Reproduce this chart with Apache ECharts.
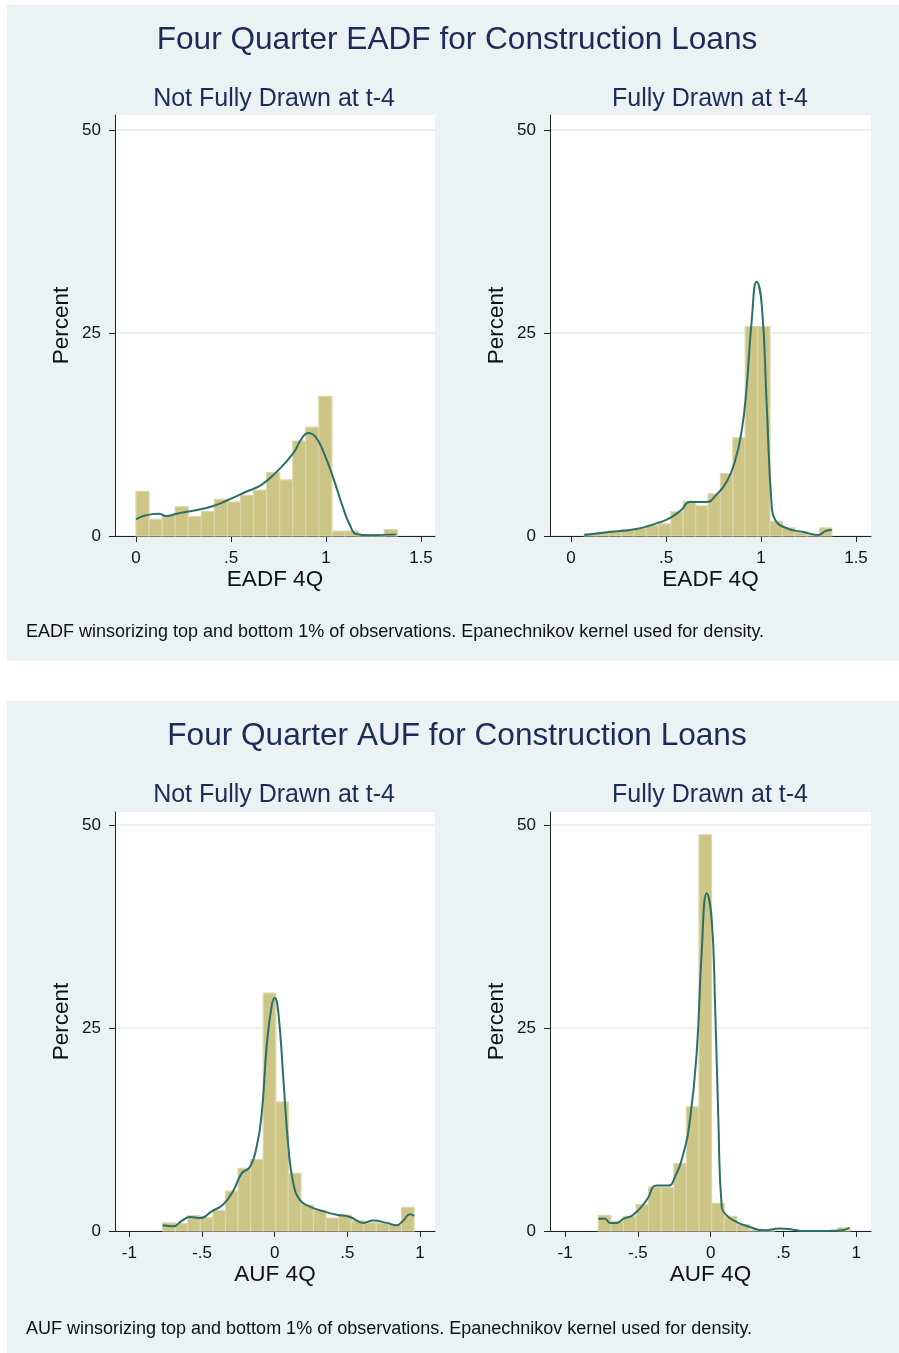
<!DOCTYPE html>
<html>
<head>
<meta charset="utf-8">
<title>Four Quarter EADF and AUF for Construction Loans</title>
<script src="https://cdn.jsdelivr.net/npm/echarts@6/dist/echarts.min.js"></script>
<style>
  html, body { margin: 0; padding: 0; background: #ffffff; }
  #chart { width: 899px; height: 1353px; }
</style>
</head>
<body>
<div id="chart"></div>
<script>
// ---- Histogram bins (percent of loans per bin) ----
// EADF, not fully drawn at t-4
const eadfNotStart = 0.0;
const eadfNotWidth = 0.06875;
const eadfNotPct = [5.5, 2.05, 2.5, 3.6, 2.4, 3.0, 4.5, 4.2, 5.0, 5.65,
                    7.8, 6.9, 11.7, 13.4, 17.2, 0.6, 0.6, 0.1, 0.1, 0.8];
// EADF, fully drawn at t-4
const eadfFullStart = 0.07;
const eadfFullWidth = 0.06515;
const eadfFullPct = [0.3, 0.4, 0.6, 0.8, 0.95, 1.3, 1.5, 3.0, 4.3, 3.7,
                     5.2, 7.7, 12.1, 25.8, 25.8, 1.8, 1.0, 0.5, 0.2, 1.0];
// AUF, not fully drawn at t-4
const aufNotStart = -0.771;
const aufNotWidth = 0.0865;
const aufNotPct = [1.0, 0.9, 1.9, 1.65, 2.55, 4.9, 7.7, 8.8, 29.3, 15.9,
                   7.1, 3.2, 2.55, 1.6, 1.95, 1.25, 1.0, 1.0, 0.7, 2.9];
// AUF, fully drawn at t-4
const aufFullStart = -0.772;
const aufFullWidth = 0.0865;
const aufFullPct = [1.93, 1.2, 1.8, 3.25, 5.4, 5.4, 8.3, 15.3, 48.8, 3.4,
                    1.8, 0.8, 0.2, 0.1, 0, 0, 0, 0, 0, 0.4];

// ---- Epanechnikov kernel density, scaled to percent ----
const eadfNotDensX = [0.0, 0.039, 0.118, 0.161, 0.214, 0.30, 0.407, 0.49, 0.58, 0.66,
                      0.74, 0.828, 0.872, 0.907, 0.942, 0.986, 1.039, 1.091, 1.126, 1.16, 1.23, 1.37];
const eadfNotDensY = [2.05, 2.46, 2.75, 2.46, 2.75, 3.1, 3.7, 4.5, 5.45, 6.3,
                      7.9, 10.2, 12.0, 12.7, 12.3, 10.4, 7.1, 3.4, 1.35, 0.25, 0.1, 0.2];

const eadfFullDensX = [0.07, 0.2, 0.343, 0.45, 0.52, 0.58, 0.625, 0.713, 0.766, 0.82,
                       0.863, 0.898, 0.924, 0.951, 0.977, 1.004, 1.03, 1.056, 1.074, 1.136,
                       1.224, 1.303, 1.338, 1.373];
const eadfFullDensY = [0.12, 0.5, 0.85, 1.55, 2.2, 3.2, 4.2, 4.2, 5.1, 6.7,
                       9.2, 12.9, 18.2, 26.5, 31.3, 28.5, 16.2, 3.8, 2.0, 0.95,
                       0.5, 0.12, 0.6, 0.75];

const aufNotDensX = [-0.771, -0.697, -0.64, -0.583, -0.514, -0.433, -0.353, -0.284, -0.227, -0.17,
                     -0.124, -0.089, -0.055, -0.021, 0.0, 0.025, 0.06, 0.094, 0.128, 0.174,
                     0.243, 0.335, 0.427, 0.518, 0.61, 0.679, 0.771, 0.839, 0.885, 0.931, 0.959];
const aufNotDensY = [0.7, 0.58, 1.24, 1.73, 1.6, 2.43, 3.3, 5.0, 7.1, 7.9,
                     10.4, 14.5, 22.8, 27.7, 28.7, 26.9, 18.6, 10.4, 5.9, 3.8,
                     3.0, 2.43, 2.0, 1.73, 1.0, 1.3, 1.0, 0.7, 1.3, 2.06, 1.86];

const aufFullDensX = [-0.772, -0.726, -0.692, -0.646, -0.6, -0.531, -0.44, -0.371, -0.291, -0.245,
                      -0.188, -0.142, -0.096, -0.062, -0.027, 0.007, 0.03, 0.053, 0.076, 0.11,
                      0.179, 0.27, 0.362, 0.477, 0.568, 0.637, 0.8, 0.889, 0.953];
const aufFullDensY = [1.5, 1.5, 1.0, 1.0, 1.5, 2.0, 3.8, 5.6, 5.6, 6.7,
                      9.5, 13.7, 21.9, 34.2, 41.6, 38.4, 28.1, 13.7, 3.0, 1.93,
                      1.1, 0.5, 0.08, 0.3, 0.16, 0.0, 0.0, 0.05, 0.4];

// ---- Axis ticks and text ----
const yTicks = [0, 25, 50];
const eadfTicks = [0, 0.5, 1, 1.5];
const eadfTickLabels = ['0', '.5', '1', '1.5'];
const aufTicks = [-1, -0.5, 0, 0.5, 1];
const aufTickLabels = ['-1', '-.5', '0', '.5', '1'];

const titleEadf = 'Four Quarter EADF for Construction Loans';
const titleAuf = 'Four Quarter AUF for Construction Loans';
const subNot = 'Not Fully Drawn at t-4';
const subFull = 'Fully Drawn at t-4';
const noteEadf = 'EADF winsorizing top and bottom 1% of observations. Epanechnikov kernel used for density.';
const noteAuf = 'AUF winsorizing top and bottom 1% of observations. Epanechnikov kernel used for density.';

// ---- Styling ----
const FONT = '"Liberation Sans", Arial, sans-serif';
const PANEL_BG = '#EAF2F3';
const TITLE_COLOR = '#1C2B58';
const BAR_FILL = '#CCC585';
const BAR_EDGE = '#DBD7AA';
const CURVE = '#2B6F6B';
const GRID_LINE = '#E3ECF1';

function binRows(start, width, pct) {
  return pct.map((v, i) => [start + i * width, start + (i + 1) * width, v]);
}
function pairs(xs, ys) {
  return xs.map((x, i) => [x, ys[i]]);
}

function renderBin(params, api) {
  const v = api.value(2);
  if (!(v > 0)) return null;
  const tl = api.coord([api.value(0), v]);
  const br = api.coord([api.value(1), 0]);
  return {
    type: 'rect',
    shape: { x: tl[0], y: tl[1], width: br[0] - tl[0], height: br[1] - tl[1] },
    style: { fill: BAR_FILL, stroke: BAR_EDGE, lineWidth: 1.2 }
  };
}

const grids = [
  { left: 115, top: 115, width: 320, height: 421 },
  { left: 550, top: 115, width: 321, height: 421 },
  { left: 115, top: 812, width: 320, height: 419 },
  { left: 550, top: 812, width: 321, height: 419 }
].map(g => Object.assign({ show: true, backgroundColor: '#ffffff', borderWidth: 0 }, g));

function xAxisFor(idx, min, max, ticks, labels, name) {
  return {
    type: 'value', gridIndex: idx, min: min, max: max,
    name: name, nameLocation: 'middle', nameGap: 31,
    nameTextStyle: { fontFamily: FONT, fontSize: 22.5, color: '#111111' },
    axisLine: { show: true, onZero: false, lineStyle: { color: '#222222', width: 1 } },
    axisTick: { show: true, length: 6, customValues: ticks, lineStyle: { color: '#222222' } },
    axisLabel: {
      customValues: ticks, margin: 14,
      fontFamily: FONT, fontSize: 17, color: '#111111',
      formatter: v => { const k = ticks.findIndex(t => Math.abs(t - v) < 1e-9); return k >= 0 ? labels[k] : ''; }
    },
    splitLine: { show: false }
  };
}
function yAxisFor(idx, max) {
  return {
    type: 'value', gridIndex: idx, min: 0, max: max,
    name: 'Percent', nameLocation: 'middle', nameGap: 42, nameRotate: 90,
    nameTextStyle: { fontFamily: FONT, fontSize: 22.5, color: '#111111' },
    axisLine: { show: true, onZero: false, lineStyle: { color: '#222222', width: 1 } },
    axisTick: { show: true, length: 6, customValues: yTicks, lineStyle: { color: '#222222' } },
    axisLabel: { customValues: yTicks, margin: 14, fontFamily: FONT, fontSize: 17, color: '#111111' },
    splitLine: { show: true, lineStyle: { color: GRID_LINE, width: 1.5 } }
  };
}

const xAxes = [
  xAxisFor(0, -0.1105, 1.5737, eadfTicks, eadfTickLabels, 'EADF 4Q'),
  xAxisFor(1, -0.1105, 1.579, eadfTicks, eadfTickLabels, 'EADF 4Q'),
  xAxisFor(2, -1.099, 1.103, aufTicks, aufTickLabels, 'AUF 4Q'),
  xAxisFor(3, -1.104, 1.102, aufTicks, aufTickLabels, 'AUF 4Q')
];
const yAxes = [yAxisFor(0, 51.85), yAxisFor(1, 51.85), yAxisFor(2, 51.6), yAxisFor(3, 51.6)];

const panels = [
  [eadfNotStart, eadfNotWidth, eadfNotPct, eadfNotDensX, eadfNotDensY],
  [eadfFullStart, eadfFullWidth, eadfFullPct, eadfFullDensX, eadfFullDensY],
  [aufNotStart, aufNotWidth, aufNotPct, aufNotDensX, aufNotDensY],
  [aufFullStart, aufFullWidth, aufFullPct, aufFullDensX, aufFullDensY]
];

const series = [];
panels.forEach((p, i) => {
  series.push({
    type: 'custom', xAxisIndex: i, yAxisIndex: i,
    renderItem: renderBin,
    encode: { x: [0, 1], y: 2 },
    data: binRows(p[0], p[1], p[2]),
    silent: true, z: 2
  });
  series.push({
    type: 'line', xAxisIndex: i, yAxisIndex: i,
    data: pairs(p[3], p[4]),
    smooth: 0.5,
    showSymbol: false, symbol: 'none',
    lineStyle: { color: CURVE, width: 2 },
    silent: true, z: 3, clip: true
  });
});

function textTitle(text, x, y, size, color, align) {
  return {
    text: text, left: x, top: y, textAlign: align || 'center',
    textStyle: { fontFamily: FONT, fontSize: size, fontWeight: 'normal', color: color }
  };
}

const option = {
  animation: false,
  backgroundColor: '#ffffff',
  graphic: [
    { type: 'rect', left: 7, top: 5, shape: { width: 892, height: 656 }, style: { fill: PANEL_BG }, z: -10 },
    { type: 'rect', left: 7, top: 701, shape: { width: 892, height: 652 }, style: { fill: PANEL_BG }, z: -10 }
  ],
  title: [
    textTitle(titleEadf, 452, 19, 31.6, TITLE_COLOR),
    textTitle(subNot, 269, 82, 25, TITLE_COLOR),
    textTitle(subFull, 705, 82, 25, TITLE_COLOR),
    textTitle(noteEadf, 21, 618, 18, '#111111', 'left'),
    textTitle(titleAuf, 452, 715, 31.6, TITLE_COLOR),
    textTitle(subNot, 269, 778, 25, TITLE_COLOR),
    textTitle(subFull, 705, 778, 25, TITLE_COLOR),
    textTitle(noteAuf, 21, 1315, 18, '#111111', 'left')
  ],
  grid: grids,
  xAxis: xAxes,
  yAxis: yAxes,
  series: series
};

const chart = echarts.init(document.getElementById('chart'), null, { renderer: 'canvas' });
chart.setOption(option);
</script>
</body>
</html>
